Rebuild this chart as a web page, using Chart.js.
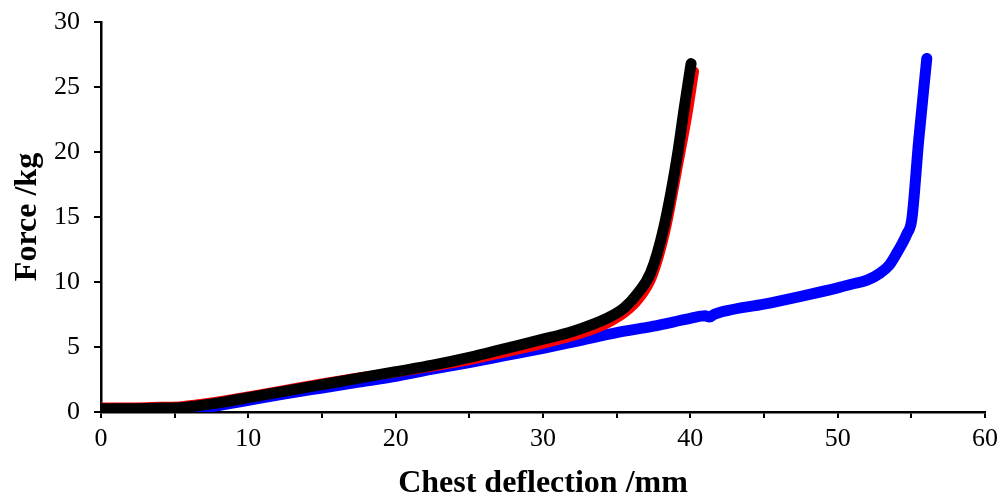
<!DOCTYPE html>
<html lang="en">
<head>
    <meta charset="UTF-8">
    <title>Chest deflection</title>
    <script src="https://cdn.jsdelivr.net/npm/chart.js"></script>
    <style>
        html, body { margin: 0; padding: 0; background: #fff; }
        #chart { display: block; }
    </style>
</head>
<body>
    <canvas id="chart" width="1005" height="500"></canvas>

    <script>
        // blue test
        const blueX = [0, 3, 5, 6.5, 8, 10, 12.5, 15, 17.5, 20, 22.5, 25, 27.5, 30, 32.5, 35, 37.5, 40, 41.0, 41.3, 41.6, 42.5, 45, 47.5, 50, 51, 52, 52.9, 53.5, 54, 54.4, 54.7, 55.03, 55.5, 56.05];
        const blueY = [0.1, 0.1, 0.1, 0.25, 0.5, 0.9, 1.4, 1.85, 2.3, 2.75, 3.3, 3.8, 4.35, 4.9, 5.5, 6.1, 6.6, 7.2, 7.4, 7.3, 7.5, 7.8, 8.3, 8.9, 9.55, 9.85, 10.15, 10.7, 11.3, 12.2, 13.0, 13.7, 14.8, 20.9, 27.2];

        // red test
        const redX = [0, 2, 4, 5.5, 7, 8.5, 10, 12.5, 15, 17.5, 20, 22.5, 25, 27.5, 30, 32, 33.5, 34.5, 35.5, 36.5, 37.4, 38.3, 39.2, 39.8, 40.25];
        const redY = [0.35, 0.35, 0.4, 0.45, 0.65, 0.9, 1.2, 1.7, 2.2, 2.65, 3.05, 3.5, 4.0, 4.6, 5.25, 5.85, 6.4, 6.9, 7.6, 8.7, 10.4, 13.9, 19.2, 22.9, 26.2];

        // black test
        const blackX = [0, 2, 4, 5.5, 7, 8.5, 10, 12.5, 15, 17.5, 20, 22.5, 25, 27.5, 30, 32, 33.5, 34.5, 35.5, 36.4, 37.3, 38.2, 39.1, 39.6, 40.05];
        const blackY = [0.25, 0.25, 0.3, 0.35, 0.55, 0.8, 1.1, 1.6, 2.1, 2.6, 3.1, 3.6, 4.2, 4.9, 5.6, 6.2, 6.8, 7.3, 8.0, 9.1, 10.7, 14.2, 19.6, 23.5, 26.8];

        const toPoints = (xs, ys) => xs.map((x, i) => ({ x: x, y: ys[i] }));

        const makeSet = (label, xs, ys, color, width, order) => ({
            label: label,
            data: toPoints(xs, ys),
            order: order,
            showLine: true,
            borderColor: color,
            backgroundColor: color,
            borderWidth: width,
            borderCapStyle: 'round',
            borderJoinStyle: 'round',
            pointRadius: 0,
            cubicInterpolationMode: 'monotone'
        });

        const tickFont = { family: 'Liberation Serif', size: 26 };
        const titleFont = { family: 'Liberation Serif', size: 32, weight: 'bold', lineHeight: 1 };

        new Chart(document.getElementById('chart').getContext('2d'), {
            type: 'scatter',
            data: {
                datasets: [
                    // lower order is drawn on top: black over red over blue
                    makeSet('Blue', blueX, blueY, '#0000ff', 11, 3),
                    makeSet('Red', redX, redY, '#ff0000', 10, 2),
                    makeSet('Black', blackX, blackY, '#000000', 11, 1)
                ]
            },
            options: {
                responsive: false,
                animation: false,
                layout: { padding: { top: 22, right: 20, left: 0, bottom: 0 } },
                plugins: { legend: { display: false }, tooltip: { enabled: false } },
                scales: {
                    x: {
                        type: 'linear',
                        min: 0,
                        max: 60,
                        afterFit: (scale) => { scale.height = 88; },
                        border: { display: true, color: '#000', width: 2.5 },
                        grid: { drawOnChartArea: false, drawTicks: true, tickLength: 6, color: '#000', lineWidth: 2 },
                        ticks: {
                            stepSize: 5,
                            color: '#000',
                            font: tickFont,
                            padding: 6,
                            maxRotation: 0,
                            autoSkip: false,
                            callback: (v) => (v % 10 === 0 ? String(v) : '')
                        },
                        title: { display: true, text: 'Chest deflection /mm', color: '#000', font: titleFont, padding: { top: 0, bottom: 0 } }
                    },
                    y: {
                        min: 0,
                        max: 30,
                        afterFit: (scale) => {
                            scale.width = 101;
                            scale.paddingTop = 0;
                            scale.paddingBottom = 0;
                        },
                        border: { display: true, color: '#000', width: 2.5 },
                        grid: { drawOnChartArea: false, drawTicks: true, tickLength: 7, color: '#000', lineWidth: 2 },
                        ticks: { stepSize: 5, color: '#000', font: tickFont, padding: 14 },
                        title: { display: true, text: 'Force /kg', color: '#000', font: titleFont, padding: { top: 12, bottom: 0 } }
                    }
                }
            }
        });
    </script>
</body>
</html>
